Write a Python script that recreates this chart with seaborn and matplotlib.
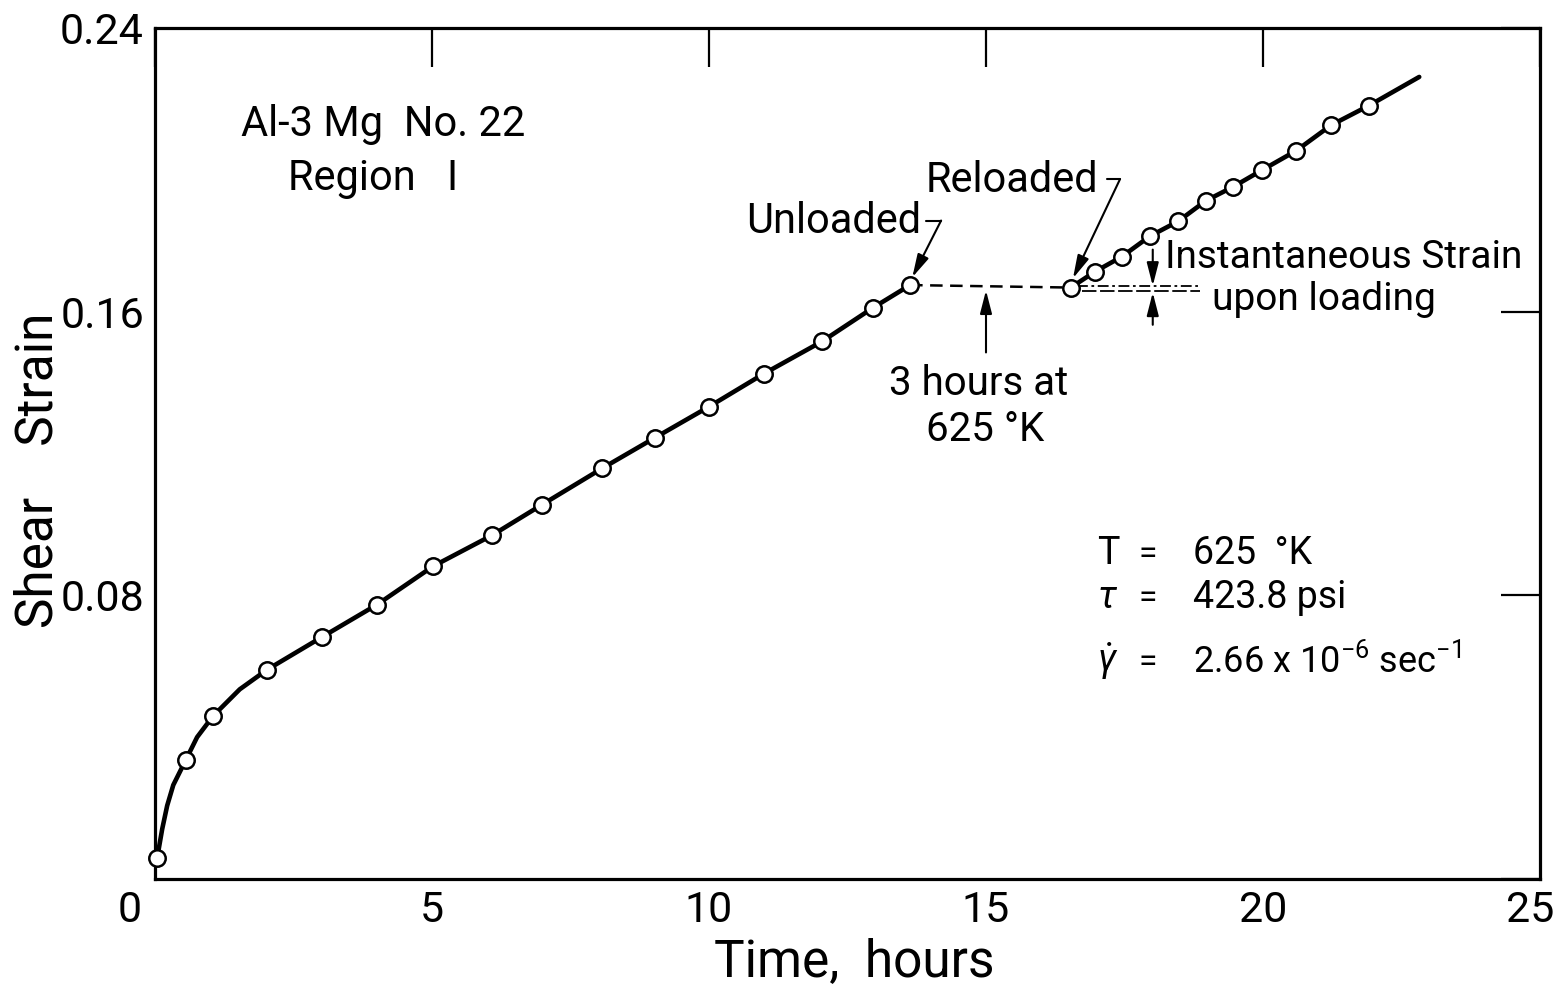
import matplotlib
matplotlib.use('Agg')
import matplotlib.pyplot as plt
from matplotlib import font_manager
from matplotlib.transforms import ScaledTranslation
import pandas as pd
import seaborn as sns

# -------------------- data --------------------
# first loading (circles)
first_time = [0.04, 0.56, 1.05, 2.02, 3.01, 4.01, 5.02, 6.08, 6.99, 8.07,
              9.03, 10.0, 10.99, 12.04, 12.96, 13.63]
first_strain = [0.0060, 0.0337, 0.0460, 0.0590, 0.0682, 0.0774, 0.0882, 0.0969,
                0.1056, 0.1158, 0.1245, 0.1332, 0.1425, 0.1516, 0.1611, 0.1675]
# extra points at the primary-creep knee
knee_time = [0.13, 0.22, 0.33, 0.76, 1.53]
knee_strain = [0.0141, 0.0207, 0.0265, 0.0400, 0.0535]

# after reloading (circles)
second_time = [16.53, 16.97, 17.45, 17.96, 18.47, 18.97, 19.46, 19.98, 20.60,
               21.23, 21.91]
second_strain = [0.1668, 0.1713, 0.1755, 0.1813, 0.1855, 0.1913, 0.1952, 0.1999,
                 0.2054, 0.2126, 0.2181]
# where the solid line stops
end_time = [22.82]
end_strain = [0.2262]

xticks = [0, 5, 10, 15, 20, 25]
xtick_labels = ['0', '5', '10', '15', '20', '25']
yticks = [0, 0.08, 0.16, 0.24]
ytick_labels = ['', '0.08', '0.16', '0.24']

# -------------------- style --------------------
sns.set_style('white')
installed = {f.name for f in font_manager.fontManager.ttflist}
FONT = 'Roboto' if 'Roboto' in installed else 'Liberation Sans'
plt.rcParams['font.family'] = [FONT, 'DejaVu Sans']
plt.rcParams['mathtext.fontset'] = 'custom'
plt.rcParams['mathtext.rm'] = FONT
plt.rcParams['mathtext.it'] = FONT + ':italic'
plt.rcParams['mathtext.bf'] = FONT + ':bold'
plt.rcParams['text.color'] = 'black'
plt.rcParams['axes.labelcolor'] = 'black'

fig = plt.figure(figsize=(15.58, 9.93), dpi=100)
ax = fig.add_axes([155 / 1558, 114 / 993, 1385 / 1558, 851 / 993])

# -------------------- curves --------------------
curve1 = pd.DataFrame({'time': first_time + knee_time,
                       'strain': first_strain + knee_strain}).sort_values('time')
curve2 = pd.DataFrame({'time': second_time + end_time,
                       'strain': second_strain + end_strain})
rest = pd.DataFrame({'time': [first_time[-1], second_time[0]],
                     'strain': [first_strain[-1], second_strain[0]]})

sns.lineplot(data=curve1, x='time', y='strain', estimator=None, color='black',
             lw=3.3, ax=ax)
sns.lineplot(data=curve2, x='time', y='strain', estimator=None, color='black',
             lw=3.3, ax=ax)
sns.lineplot(data=rest, x='time', y='strain', estimator=None, color='black',
             lw=1.8, ls=(0, (5, 3)), ax=ax)

pts = pd.DataFrame({'time': first_time + second_time,
                    'strain': first_strain + second_strain})
sns.scatterplot(data=pts, x='time', y='strain', s=140, color='white',
                edgecolor='black', linewidth=1.8, zorder=4, clip_on=False, ax=ax)

# -------------------- axes --------------------
ax.set_xlim(0, 25)
ax.set_ylim(0, 0.24)
ax.set_xticks(xticks)
ax.set_xticklabels(xtick_labels)
ax.set_yticks(yticks)
ax.set_yticklabels(ytick_labels)
ax.tick_params(direction='in', length=28, width=1.6, top=True, right=True,
               labelsize=31, pad=8, colors='black')
for sp in ax.spines.values():
    sp.set_linewidth(2.3)
    sp.set_color('black')
    sp.set_visible(True)

# the drafted "0" and "25" sit a little left of their ticks
xlabs = ax.get_xticklabels()
xlabs[0].set_transform(xlabs[0].get_transform()
                       + ScaledTranslation(-0.25, 0, fig.dpi_scale_trans))
xlabs[-1].set_transform(xlabs[-1].get_transform()
                        + ScaledTranslation(-0.10, 0, fig.dpi_scale_trans))

ax.set_xlabel('Time,  hours', fontsize=37)
ax.xaxis.set_label_coords(0.505, -0.068)
ax.set_ylabel('Shear    Strain', fontsize=37)
ax.yaxis.set_label_coords(-0.066, 0.48)

# -------------------- annotations --------------------
arrow = dict(arrowstyle='-|>,head_length=0.7,head_width=0.18', color='black',
             lw=1.5, shrinkA=0, shrinkB=0, mutation_scale=20)

ax.text(4.12, 0.2095, 'Al-3 Mg  No. 22', ha='center', va='baseline', fontsize=30)
ax.text(3.94, 0.1943, 'Region   I', ha='center', va='baseline', fontsize=30)

# unloaded / reloaded hooks
ax.text(13.84, 0.1821, 'Unloaded', ha='right', va='baseline', fontsize=30)
ax.plot([13.92, 14.19], [0.1857, 0.1857], color='black', lw=1.5)
ax.annotate('', xy=(13.67, 0.1697), xytext=(14.19, 0.1857), arrowprops=arrow)

ax.text(17.02, 0.1938, 'Reloaded', ha='right', va='baseline', fontsize=30)
ax.plot([17.18, 17.42], [0.1974, 0.1974], color='black', lw=1.5)
ax.annotate('', xy=(16.57, 0.1694), xytext=(17.42, 0.1974), arrowprops=arrow)

# rest period
ax.annotate('', xy=(15.0, 0.1660), xytext=(15.0, 0.1485), arrowprops=arrow)
ax.text(14.86, 0.1366, '3 hours at', ha='center', va='baseline', fontsize=29)
ax.text(14.98, 0.1234, '625 °K', ha='center', va='baseline', fontsize=29)

# instantaneous strain upon loading
ax.plot([16.64, 18.86], [0.1671, 0.1671], color='black', lw=1.3,
        ls=(0, (6, 2, 1.5, 2)))
ax.plot([16.73, 18.86], [0.1657, 0.1657], color='black', lw=1.3,
        ls=(0, (8, 2)))
ax.annotate('', xy=(18.01, 0.1673), xytext=(18.01, 0.1775), arrowprops=arrow)
ax.annotate('', xy=(18.01, 0.1654), xytext=(18.01, 0.1563), arrowprops=arrow)
ax.text(18.23, 0.1722, 'Instantaneous Strain', ha='left', va='baseline', fontsize=28)
ax.text(19.08, 0.1606, 'upon loading', ha='left', va='baseline', fontsize=28)

# test conditions
ax.text(17.0, 0.0887, 'T', ha='left', va='baseline', fontsize=27)
ax.text(17.92, 0.0887, '=', ha='center', va='baseline', fontsize=24)
ax.text(18.74, 0.0887, '625  °K', ha='left', va='baseline', fontsize=27)
ax.text(17.0, 0.0765, r'$\tau$', ha='left', va='baseline', fontsize=27)
ax.text(17.92, 0.0765, '=', ha='center', va='baseline', fontsize=24)
ax.text(18.74, 0.0765, '423.8 psi', ha='left', va='baseline', fontsize=27)
ax.text(17.0, 0.0584, r'$\dot{\gamma}$', ha='left', va='baseline', fontsize=27)
ax.text(17.92, 0.0584, '=', ha='center', va='baseline', fontsize=24)
ax.text(18.74, 0.0584, r'2.66 x 10$^{-6}$ sec$^{-1}$', ha='left', va='baseline',
        fontsize=26)

fig.savefig('out.png', dpi=100, facecolor='white')
